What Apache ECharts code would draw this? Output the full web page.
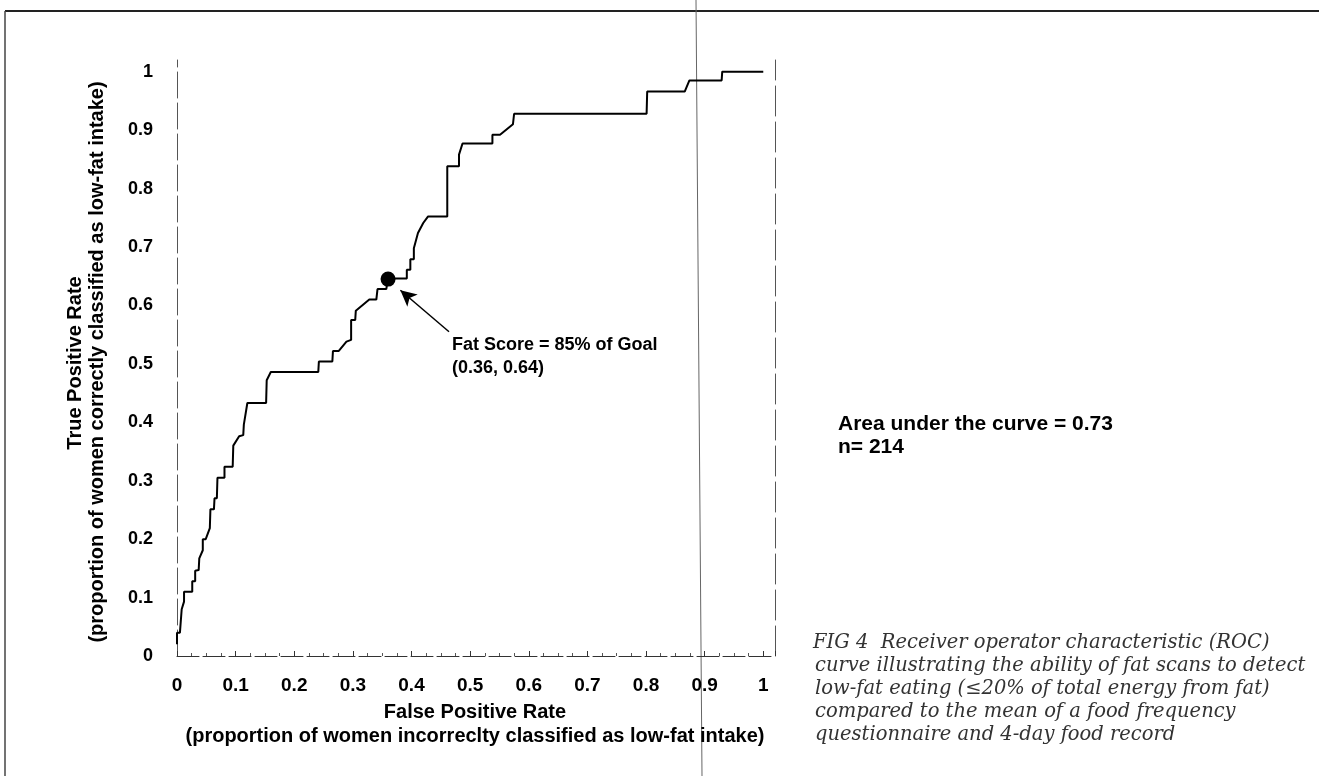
<!DOCTYPE html>
<html>
<head>
<meta charset="utf-8">
<script src="https://cdn.jsdelivr.net/npm/echarts@6/dist/echarts.min.js"></script>
<style>
  html, body { margin: 0; padding: 0; background: #fff; }
  #chart { width: 1319px; height: 776px; }
</style>
</head>
<body>
<div id="chart"></div>
<script>
// ---- data ----
const fpr = [0, 0, 0.005, 0.008, 0.012, 0.012, 0.026, 0.026, 0.031, 0.031, 0.037, 0.038, 0.044, 0.044, 0.049, 0.056, 0.057, 0.063, 0.064, 0.068, 0.069, 0.081, 0.081, 0.095, 0.096, 0.106, 0.113, 0.114, 0.12, 0.152, 0.153, 0.16, 0.241, 0.242, 0.265, 0.266, 0.276, 0.289, 0.297, 0.297, 0.304, 0.305, 0.328, 0.34, 0.342, 0.357, 0.36, 0.392, 0.392, 0.398, 0.398, 0.404, 0.404, 0.411, 0.42, 0.428, 0.461, 0.461, 0.481, 0.481, 0.487, 0.538, 0.538, 0.551, 0.573, 0.575, 0.801, 0.802, 0.866, 0.874, 0.929, 0.93, 1.0];
const tpr = [0.02, 0.04, 0.04, 0.08, 0.093, 0.11, 0.11, 0.128, 0.128, 0.146, 0.147, 0.167, 0.181, 0.2, 0.2, 0.219, 0.251, 0.251, 0.27, 0.27, 0.305, 0.305, 0.324, 0.324, 0.36, 0.376, 0.378, 0.396, 0.433, 0.433, 0.472, 0.486, 0.486, 0.504, 0.504, 0.522, 0.522, 0.538, 0.541, 0.575, 0.575, 0.591, 0.61, 0.61, 0.628, 0.628, 0.646, 0.646, 0.661, 0.661, 0.679, 0.679, 0.698, 0.724, 0.741, 0.752, 0.752, 0.838, 0.838, 0.858, 0.877, 0.877, 0.892, 0.892, 0.91, 0.928, 0.928, 0.966, 0.966, 0.985, 0.985, 1.0, 1.0];
const cutPoint = [0.36, 0.645];
const arrowFrom = [0.464, 0.555];
const arrowTo = [0.381, 0.626];
const xTitle = ['False Positive Rate', '(proportion of women incorreclty classified as low-fat intake)'];
const yTitle = ['True Positive Rate', '(proportion of women correctly classified as low-fat intake)'];
const noteLines = ['Fat Score = 85% of Goal', '(0.36, 0.64)'];
const statLines = ['Area under the curve = 0.73', 'n= 214'];
const captionLines = [
  'FIG 4  Receiver operator characteristic (ROC)',
  'curve illustrating the ability of fat scans to detect',
  'low-fat eating (\u226420% of total energy from fat)',
  'compared to the mean of a food frequency',
  'questionnaire and 4-day food record'
];
const axisMax = 1.02;

const curve = fpr.map((x, i) => [x, tpr[i]]);
const F = '"Liberation Sans", Arial, sans-serif';
const labelFmt = v => (v > 1.001 ? '' : String(Math.round(v * 10) / 10));

const chart = echarts.init(document.getElementById('chart'), null, { renderer: 'canvas' });
chart.setOption({
  backgroundColor: '#ffffff',
  animation: false,
  grid: { left: 177, right: 544, top: 60, bottom: 120, containLabel: false },
  xAxis: {
    type: 'value', min: 0, max: axisMax, interval: 0.1,
    axisLine: { show: true, lineStyle: { color: '#333', width: 1, type: [22, 4] } },
    axisTick: { show: true, inside: true, length: 5, lineStyle: { color: '#333' } },
    minorTick: { show: true, splitNumber: 4, length: 3, lineStyle: { color: '#555' } },
    splitLine: { show: false },
    axisLabel: { color: '#000', fontFamily: F, fontWeight: 'bold', fontSize: 19, margin: 20, formatter: labelFmt }
  },
  yAxis: [{
    type: 'value', min: 0, max: axisMax, interval: 0.1,
    axisLine: { show: true, lineStyle: { color: '#555', width: 1, type: [26, 5] } },
    axisTick: { show: false },
    splitLine: { show: false },
    axisLabel: { color: '#000', fontFamily: F, fontWeight: 'bold', fontSize: 18, margin: 24, formatter: labelFmt }
  }, {
    type: 'value', min: 0, max: axisMax, position: 'right',
    axisLine: { show: true, lineStyle: { color: '#555', width: 1, type: [30, 6] } },
    axisTick: { show: false }, axisLabel: { show: false }, splitLine: { show: false }
  }],
  series: [{
    type: 'line', data: curve, showSymbol: false, symbol: 'none',
    lineStyle: { color: '#000', width: 2 }, z: 3,
    markLine: {
      silent: true, symbol: ['none', 'arrow'], symbolSize: [12, 16],
      label: { show: false },
      lineStyle: { color: '#000', width: 1.5, type: 'solid' },
      data: [[{ coord: arrowFrom }, { coord: arrowTo }]]
    }
  }, {
    type: 'scatter', data: [cutPoint], symbol: 'circle', symbolSize: 15,
    itemStyle: { color: '#000', opacity: 1 }, z: 4
  }],
  graphic: [
    // scan page borders
    { type: 'line', shape: { x1: 5, y1: 11, x2: 1319, y2: 11 }, style: { stroke: '#222', lineWidth: 2 } },
    { type: 'line', shape: { x1: 5, y1: 11, x2: 5, y2: 776 }, style: { stroke: '#444', lineWidth: 1.5 } },
    { type: 'line', shape: { x1: 696, y1: 0, x2: 702, y2: 776 }, style: { stroke: '#666', lineWidth: 1 } },
    // axis titles
    { type: 'text', x: 475, y: 712, style: { text: xTitle[0], font: 'bold 20px ' + F, fill: '#000', textAlign: 'center', textVerticalAlign: 'middle' } },
    { type: 'text', x: 475, y: 736, style: { text: xTitle[1], font: 'bold 20px ' + F, fill: '#000', textAlign: 'center', textVerticalAlign: 'middle' } },
    { type: 'text', x: 75, y: 363, rotation: Math.PI / 2, style: { text: yTitle[0], font: 'bold 20px ' + F, fill: '#000', textAlign: 'center', textVerticalAlign: 'middle' } },
    { type: 'text', x: 97, y: 362, rotation: Math.PI / 2, style: { text: yTitle[1], font: 'bold 20px ' + F, fill: '#000', textAlign: 'center', textVerticalAlign: 'middle' } },
    // annotation
    { type: 'text', x: 452, y: 345, style: { text: noteLines[0], font: 'bold 18px ' + F, fill: '#000', textAlign: 'left', textVerticalAlign: 'middle' } },
    { type: 'text', x: 452, y: 368, style: { text: noteLines[1], font: 'bold 18px ' + F, fill: '#000', textAlign: 'left', textVerticalAlign: 'middle' } },
    // stats
    { type: 'text', x: 838, y: 424, style: { text: statLines[0], font: 'bold 21px ' + F, fill: '#000', textAlign: 'left', textVerticalAlign: 'middle' } },
    { type: 'text', x: 838, y: 447, style: { text: statLines[1], font: 'bold 21px ' + F, fill: '#000', textAlign: 'left', textVerticalAlign: 'middle' } }
  ].concat(captionLines.map((t, i) => ({
    type: 'text', x: i === 0 ? 813 : 815, y: 643 + i * 23,
    style: { text: t, font: 'italic 19.5px "DejaVu Serif", serif', fill: '#333', textAlign: 'left', textVerticalAlign: 'middle' }
  })))
});
</script>
</body>
</html>
